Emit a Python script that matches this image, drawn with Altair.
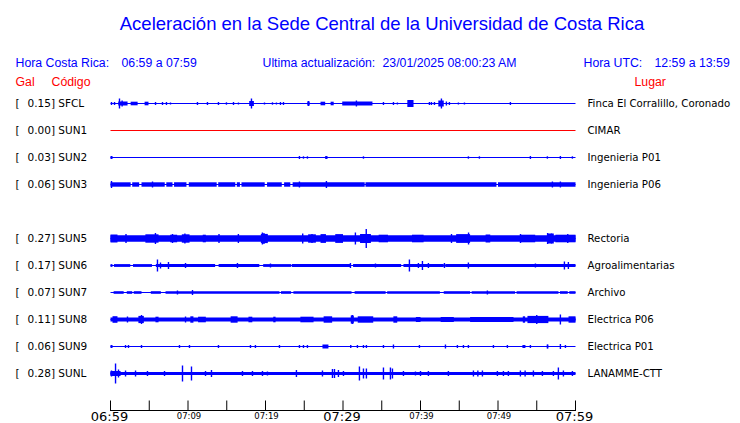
import altair as alt
import pandas as pd

# ---------------- data ----------------
codes = ["SFCL", "SUN1", "SUN2", "SUN3", "SUN5", "SUN6", "SUN7", "SUN8", "SUN9", "SUNL"]
rows = [0, 1, 2, 3, 5, 6, 7, 8, 9, 10]
gal = ["0.15", "0.00", "0.03", "0.06", "0.27", "0.17", "0.07", "0.11", "0.06", "0.28"]
places = ["Finca El Corralillo, Coronado", "CIMAR", "Ingenieria P01", "Ingenieria P06",
          "Rectoria", "Agroalimentarias", "Archivo", "Electrica P06", "Electrica P01", "LANAMME-CTT"]
trace_colors = ["#0000FF", "#FF0000", "#0000FF", "#0000FF", "#0000FF",
                "#0000FF", "#0000FF", "#0000FF", "#0000FF", "#0000FF"]

# envelope segments: [start minute, end minute, half amplitude]
bands = {
    "SFCL": [[1.0, 2.2, 2.0], [2.6, 3.5, 1.8], [4.4, 4.9, 1.8], [17.9, 18.5, 2.5], [25.4, 25.7, 2.0],
             [27.1, 27.7, 1.8], [28.4, 28.8, 1.8], [29.9, 33.8, 2.0], [38.3, 39.1, 3.5], [42.3, 43.0, 3.0]],
    "SUN1": [],
    "SUN2": [[0.0, 0.26, 1.5], [27.7, 28.0, 1.5]],
    "SUN3": [[0, 2.6, 2.2], [2.8, 3.7, 2.2], [4.0, 7.0, 2.2], [7.2, 8.0, 2.2], [8.2, 9.8, 2.2],
             [10.1, 13.7, 2.2], [13.9, 16.1, 2.2], [16.3, 16.7, 2.2], [16.9, 19.9, 2.2], [20.2, 22.1, 2.2],
             [22.4, 23.2, 2.2], [23.5, 32.8, 2.2], [32.9, 49.8, 2.2], [50.0, 60, 2.2]],
    "SUN5": [[0, 60, 3.2], [0, 0.9, 4.0], [4.5, 6.2, 4.2], [7.7, 8.6, 3.8], [9.2, 10.2, 4.2], [11.9, 12.3, 3.8],
             [19.4, 20.3, 4.6], [25.5, 26.5, 4.2], [27.1, 27.8, 4.4], [29.0, 30.0, 4.4], [32.2, 33.6, 4.5],
             [34.6, 35.8, 3.8], [38.9, 40.4, 3.8], [44.6, 46.4, 4.4], [48.4, 49.0, 4.0], [52.9, 54.8, 3.8],
             [56.4, 57.2, 5.0], [57.4, 60, 3.8]],
    "SUN6": [[0.0, 0.25, 1.4], [0.45, 2.55, 1.4], [2.9, 5.35, 1.4], [5.85, 13.5, 1.4], [13.95, 19.2, 1.4],
             [19.7, 23.3, 1.4], [23.5, 31.0, 1.4], [31.3, 37.5, 1.4], [37.8, 43.0, 1.4], [43.2, 60, 1.4]],
    "SUN7": [[0.4, 1.7, 1.3], [2.1, 2.8, 1.3], [3.0, 4.0, 1.3], [5.2, 6.5, 1.3], [7.1, 21.8, 1.3],
             [22.0, 23.3, 1.3], [23.6, 31.1, 1.3], [31.5, 35.5, 1.3], [35.7, 42.5, 1.3], [43.0, 46.4, 1.3],
             [46.6, 52.2, 1.3], [52.4, 57.8, 1.3], [58.0, 59.0, 1.3], [59.2, 60, 1.3]],
    "SUN8": [[0, 60, 2.0], [0.26, 0.9, 3.3], [3.6, 4.3, 3.6], [5.8, 6.2, 2.8], [10.3, 10.7, 3.2],
             [11.3, 12.3, 2.8], [15.5, 16.4, 3.2], [17.8, 18.3, 2.8], [21.0, 21.3, 2.8], [24.5, 26.2, 2.8],
             [27.5, 28.6, 3.2], [31.0, 31.4, 4.0], [31.9, 33.9, 3.2], [36.5, 37.0, 3.2], [39.4, 40.0, 2.5],
             [42.6, 44.3, 2.5], [46.4, 52.0, 2.5], [53.2, 53.5, 3.2], [53.8, 56.5, 3.6], [59.1, 60, 3.2]],
    "SUN9": [[0, 0.26, 1.5], [27.35, 28.12, 2.0], [53.15, 53.54, 1.5], [56.37, 56.5, 2.0]],
    "SUNL": [[0, 60, 1.6], [0, 1.3, 2.5]],
}

# isolated peaks: [minute, half amplitude]
spikes = {
    "SFCL": [[0.13, 1.5], [0.52, 1.5], [1.16, 5.0], [1.5, 3.0], [5.81, 1.5], [6.71, 1.5], [7.22, 1.5],
             [7.74, 1.0], [11.22, 1.5], [12.51, 1.5], [13.93, 1.5], [14.96, 1.2], [15.87, 1.5], [16.51, 1.0],
             [18.19, 5.0], [19.87, 1.0], [20.9, 1.2], [21.41, 1.0], [21.93, 1.5], [22.32, 1.5], [25.54, 2.5],
             [31.73, 3.0], [35.22, 1.5], [36.51, 1.5], [37.02, 1.0], [41.15, 1.5], [41.41, 1.5], [41.8, 1.5],
             [42.7, 5.0], [43.34, 2.0], [43.73, 1.5], [44.89, 1.0], [45.67, 1.0], [51.6, 1.5]],
    "SUN1": [],
    "SUN2": [[24.38, 1.5], [24.9, 1.2], [25.41, 1.2], [32.64, 1.2], [46.18, 1.2], [47.6, 1.2],
             [54.18, 1.5], [56.37, 1.2], [58.05, 1.5], [59.6, 1.2]],
    "SUN3": [[0.13, 3.5], [5.42, 3.0], [24.38, 3.0], [27.86, 3.5], [57.02, 3.0], [58.05, 3.0]],
    "SUN5": [[5.8, 5.5], [9.6, 5.0], [19.6, 6.0], [19.8, 5.5], [24.8, 5.0], [31.6, 6.0], [33.0, 9.5],
             [46.2, 6.0], [56.4, 5.5], [56.9, 5.0], [8.0, 4.5], [2.0, 4.5], [14.0, 4.5], [16.5, 4.5],
             [26.0, 4.5], [44.0, 4.5], [52.9, 4.5], [59.0, 4.5]],
    "SUN6": [[6.06, 6.0], [6.45, 3.0], [7.48, 3.5], [9.68, 2.5], [16.38, 2.5], [20.64, 2.0], [23.48, 1.5],
             [30.96, 2.5], [34.19, 2.0], [38.57, 6.0], [39.73, 2.5], [40.25, 4.5], [41.02, 2.5], [43.09, 2.5],
             [46.18, 3.0], [54.83, 2.0], [58.57, 4.0], [59.08, 3.5]],
    "SUN7": [[8.64, 2.0], [10.58, 2.5], [48.63, 2.0]],
    "SUN8": [[2.19, 3.0], [4.0, 4.5], [9.68, 3.0], [58.05, 5.0], [55.0, 4.5], [31.2, 4.5]],
    "SUN9": [[1.94, 1.5], [2.32, 1.5], [4.0, 1.5], [8.9, 1.5], [10.19, 1.5], [13.93, 1.5], [18.06, 1.5],
             [18.7, 1.5], [21.8, 1.5], [24.38, 1.5], [24.9, 1.5], [25.41, 1.5], [31.0, 1.5], [31.86, 1.5],
             [32.64, 1.5], [33.02, 1.5], [35.22, 1.5], [36.51, 2.0], [39.86, 1.5], [43.22, 2.0], [44.76, 1.5],
             [45.54, 1.5], [46.18, 1.5], [49.41, 1.5], [51.21, 1.5], [54.18, 1.5], [56.37, 2.0], [58.05, 2.5],
             [58.7, 1.5]],
    "SUNL": [[0.13, 3.0], [0.65, 10.0], [1.03, 4.0], [1.94, 3.0], [3.23, 3.0], [4.77, 2.5], [6.97, 2.5],
             [9.29, 8.0], [10.45, 7.0], [12.26, 2.5], [13.03, 3.5], [17.03, 2.5], [18.32, 2.5], [19.61, 2.5],
             [20.25, 2.0], [23.99, 3.5], [27.35, 3.0], [28.64, 4.5], [28.9, 4.5], [29.41, 3.5], [30.06, 2.5],
             [32.12, 7.0], [32.64, 5.0], [33.02, 5.0], [35.22, 6.0], [36.12, 6.0], [36.38, 5.0], [37.8, 2.5],
             [39.35, 2.0], [40.0, 2.5], [41.02, 2.5], [43.6, 2.5], [46.83, 3.0], [47.4, 3.0], [47.99, 3.0],
             [49.92, 2.5], [50.7, 2.5], [51.34, 2.5], [52.89, 3.0], [53.5, 3.0], [54.57, 3.0], [55.73, 2.5],
             [57.15, 2.5], [57.79, 6.0], [58.44, 3.0], [59.6, 2.5]],
}

tick_minutes = list(range(0, 61, 5))
label_minutes = [0, 10, 20, 30, 40, 50, 60]
tick_labels = ["06:59", "07:09", "07:19", "07:29", "07:39", "07:49", "07:59"]
big_labels = ["06:59", "07:29", "07:59"]

title_text = "Aceleración en la Sede Central de la Universidad de Costa Rica"

# ---------------- tables ----------------
ROW = 27
st = pd.DataFrame({"code": codes, "row": rows, "gal": gal, "place": places, "color": trace_colors})
st["yc"] = st["row"] * ROW
st["lab"] = st["gal"] + "] " + st["code"]
st["t0"] = 0
st["t1"] = 60

brec = []
for c, r, col in zip(codes, rows, trace_colors):
    for a, b, h in bands[c]:
        brec.append({"code": c, "t0": a, "t1": b, "ylo": r * ROW - h, "yhi": r * ROW + h, "color": col})
bdf = pd.DataFrame(brec)

srec = []
for c, r, col in zip(codes, rows, trace_colors):
    for t, h in spikes[c]:
        srec.append({"code": c, "t": t, "ylo": r * ROW - h, "yhi": r * ROW + h, "color": col})
sdf = pd.DataFrame(srec)

ticks = pd.DataFrame({"m": tick_minutes})
labs = pd.DataFrame({"m": label_minutes, "lab": tick_labels})
labs["big"] = labs["lab"].isin(big_labels)

# ---------------- scales ----------------
W, H = 465, 297
xs = alt.Scale(domain=[0, 60], nice=False, zero=False)
ys = alt.Scale(domain=[-ROW / 2, 10 * ROW + ROW / 2], nice=False, zero=False, reverse=True)

BLUE = "#0000FF"
RED = "#FF0000"
SANS = "Liberation Sans"
DJ = "DejaVu Sans"


def txt(s, x, y, size, color, font, align="left"):
    return alt.Chart(pd.DataFrame({"t": [s]})).mark_text(
        align=align, baseline="middle", fontSize=size, color=color, font=font
    ).encode(x=alt.value(x), y=alt.value(y), text="t:N")


base_lines = alt.Chart(st).mark_rule(strokeWidth=1).encode(
    x=alt.X("t0:Q", scale=xs, axis=None), x2="t1:Q",
    y=alt.Y("yc:Q", scale=ys, axis=None),
    color=alt.Color("color:N", scale=None),
)

band_marks = alt.Chart(bdf).mark_rect().encode(
    x=alt.X("t0:Q", scale=xs, axis=None), x2="t1:Q",
    y=alt.Y("ylo:Q", scale=ys, axis=None), y2="yhi:Q",
    color=alt.Color("color:N", scale=None),
)

spike_marks = alt.Chart(sdf).mark_rule(strokeWidth=1.4).encode(
    x=alt.X("t:Q", scale=xs, axis=None),
    y=alt.Y("ylo:Q", scale=ys, axis=None), y2="yhi:Q",
    color=alt.Color("color:N", scale=None),
)

bracket = alt.Chart(st).mark_text(align="left", baseline="middle", fontSize=10.5, font=DJ, color="black").encode(
    x=alt.value(-95), y=alt.Y("yc:Q", scale=ys, axis=None), text=alt.value("[")
)
left_labels = alt.Chart(st).mark_text(align="left", baseline="middle", fontSize=10.5, font=DJ, color="black").encode(
    x=alt.value(-83), y=alt.Y("yc:Q", scale=ys, axis=None), text="lab:N"
)
right_labels = alt.Chart(st).mark_text(align="left", baseline="middle", fontSize=10.2, font=DJ, color="black").encode(
    x=alt.value(477), y=alt.Y("yc:Q", scale=ys, axis=None), text="place:N"
)

axis_line = alt.Chart(ticks).mark_rule(color="black", strokeWidth=1).encode(
    x=alt.value(0), x2=alt.value(W), y=alt.value(320.5)
)
tick_marks = alt.Chart(ticks).mark_rule(color="black", strokeWidth=1).encode(
    x=alt.X("m:Q", scale=xs, axis=None), y=alt.value(310.5), y2=alt.value(320.5)
)
big_tick_labels = alt.Chart(labs[labs["big"]]).mark_text(
    align="center", baseline="middle", fontSize=13, font=DJ, color="black", dx=-1
).encode(x=alt.X("m:Q", scale=xs, axis=None), y=alt.value(327), text="lab:N")
small_tick_labels = alt.Chart(labs[~labs["big"]]).mark_text(
    align="center", baseline="middle", fontSize=8.5, font=DJ, color="black", dx=1
).encode(x=alt.X("m:Q", scale=xs, axis=None), y=alt.value(326), text="lab:N")

header = [
    txt(title_text, 271.5, -66, 18.5, BLUE, SANS, "center"),
    txt("Hora Costa Rica:", -95, -27, 12.3, BLUE, SANS),
    txt("06:59 a 07:59", 11, -27, 12.3, BLUE, SANS),
    txt("Ultima actualización:", 152, -27, 12.3, BLUE, SANS),
    txt("23/01/2025 08:00:23 AM", 272, -27, 12.3, BLUE, SANS),
    txt("Hora UTC:", 473, -27, 12.3, BLUE, SANS),
    txt("12:59 a 13:59", 544, -27, 12.3, BLUE, SANS),
    txt("Gal", -95, -8, 12.3, RED, SANS),
    txt("Código", -59, -8, 12.3, RED, SANS),
    txt("Lugar", 524, -8, 12.3, RED, SANS),
]

chart = alt.layer(
    base_lines, band_marks, spike_marks, bracket, left_labels, right_labels,
    axis_line, tick_marks, big_tick_labels, small_tick_labels, *header
).properties(
    width=W, height=H,
    autosize=alt.AutoSizeParams(type="none"),
    padding={"left": 102.5, "top": 82, "right": 156.5, "bottom": 42},
    background="white",
).configure_view(stroke=None)

chart.save("out.html", embed_options={"renderer": "svg", "actions": False})
